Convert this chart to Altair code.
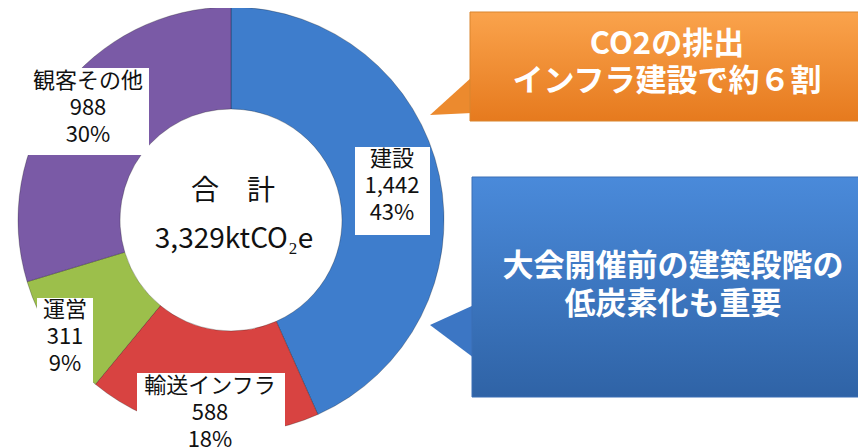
import altair as alt
import pandas as pd

# ---- data ----
categories = ["建設", "輸送インフラ", "運営", "観客その他"]
values = [1442, 588, 311, 988]
percents = [43, 18, 9, 30]
slice_colors = ["#3E7DCC", "#D84341", "#9CBF4B", "#7A5AA6"]

center_title = "合　計"
center_total = "3,329ktCO₂e"
callout_top_lines = ["CO2の排出", "インフラ建設で約６割"]
callout_bottom_lines = ["大会開催前の建築段階の", "低炭素化も重要"]

# ---- layout (page pixel coordinates) ----
W, H = 850, 440
CX, CY = 231, 220
R_IN, R_OUT = 111, 213
# (x center, y of first text line)
label_first = {"建設": (392, 159), "輸送インフラ": (210, 386), "運営": (65, 310), "観客その他": (88, 81)}
label_box = {"建設": (355, 430, 147, 235), "輸送インフラ": (137, 285, 373, 448),
             "運営": (37, 93, 298, 387), "観客その他": (27, 149, 68, 155)}
FONT = "Noto Sans CJK JP"

xs = alt.Scale(domain=[8, 8 + W], range=[0, W], nice=False, zero=False)
ys = alt.Scale(domain=[8, 8 + H], range=[0, H], nice=False, zero=False)

def X(f):
    return alt.X(f, scale=xs, axis=None)

def Y(f):
    return alt.Y(f, scale=ys, axis=None)

# donut
df = pd.DataFrame({"cat": categories, "value": values, "order": list(range(len(categories)))})
arcs = alt.Chart(df).mark_arc(innerRadius=R_IN, outerRadius=R_OUT, stroke="rgba(0,0,0,0.25)", strokeWidth=1).encode(
    theta=alt.Theta("value:Q", stack=True),
    order=alt.Order("order:Q"),
    color=alt.Color("cat:N", scale=alt.Scale(domain=categories, range=slice_colors), legend=None),
    x=alt.value(CX - 8), y=alt.value(CY - 8),
)

# slice labels
lab_rows = []
box_rows = []
for c, v, p in zip(categories, values, percents):
    lx, ly = label_first[c]
    lab_rows.append({"x": lx, "y": ly, "t": f"{c}\n{v:,}\n{p}%"})
    x1, x2, y1, y2 = label_box[c]
    box_rows.append({"x": x1, "x2": x2, "y": y1, "y2": y2})
lab_df = pd.DataFrame(lab_rows)
box_df = pd.DataFrame(box_rows)

boxes = alt.Chart(box_df).mark_rect(fill="white").encode(
    x=X("x:Q"), x2="x2:Q", y=Y("y:Q"), y2="y2:Q")
labels = alt.Chart(lab_df).mark_text(font=FONT, fontSize=22, color="#111", lineBreak="\n",
                                     lineHeight=27, baseline="middle", align="center").encode(
    x=X("x:Q"), y=Y("y:Q"), text="t:N")

# center text
ctr_df = pd.DataFrame({"x": [CX + 2, CX + 3], "y": [192, 240], "t": [center_title, center_total]})
center = alt.Chart(ctr_df).mark_text(font=FONT, fontSize=28, color="#111", baseline="middle").encode(
    x=X("x:Q"), y=Y("y:Q"), text="t:N")

# callouts
def grad(c1, c2):
    return alt.Gradient(gradient="linear", x1=0, x2=0, y1=0, y2=1,
                        stops=[alt.GradientStop(color=c1, offset=0), alt.GradientStop(color=c2, offset=1)])

org_box = alt.Chart(pd.DataFrame({"x": [470], "x2": [866], "y": [12], "y2": [121]})).mark_rect(
    fill=grad("#FAA34C", "#E67A1E"), stroke="#D9852F", strokeWidth=1).encode(
    x=X("x:Q"), x2="x2:Q", y=Y("y:Q"), y2="y2:Q")
org_tri = alt.Chart(pd.DataFrame({"x": [430, 472], "y": [115, 77], "y2": [115, 113]})).mark_area(
    orient="vertical", color="#EC8A2E").encode(x=X("x:Q"), y=Y("y:Q"), y2="y2:Q")

blu_box = alt.Chart(pd.DataFrame({"x": [472], "x2": [866], "y": [177], "y2": [397]})).mark_rect(
    fill=grad("#4A8ADA", "#2F63A6"), stroke="#3A6FB5", strokeWidth=1).encode(
    x=X("x:Q"), x2="x2:Q", y=Y("y:Q"), y2="y2:Q")
blu_tri = alt.Chart(pd.DataFrame({"x": [430, 474], "y": [325, 305], "y2": [325, 358]})).mark_area(
    orient="vertical", color="#3C76C4").encode(x=X("x:Q"), y=Y("y:Q"), y2="y2:Q")

co_df = pd.DataFrame({
    "x": [667, 667, 673, 673],
    "y": [45, 82, 267, 305],
    "t": callout_top_lines + callout_bottom_lines,
})
co_text = alt.Chart(co_df).mark_text(font=FONT, fontSize=31, fontWeight="bold", color="white",
                                     baseline="middle").encode(
    x=X("x:Q"), y=Y("y:Q"), text="t:N")

chart = alt.layer(
    arcs, boxes, labels, center, org_tri, org_box, blu_tri, blu_box, co_text
).properties(width=W, height=H, padding=0, autosize="none").configure_view(stroke=None).resolve_scale(
    theta="independent")

chart.save("out.html", embed_options={"renderer": "svg", "actions": False})
